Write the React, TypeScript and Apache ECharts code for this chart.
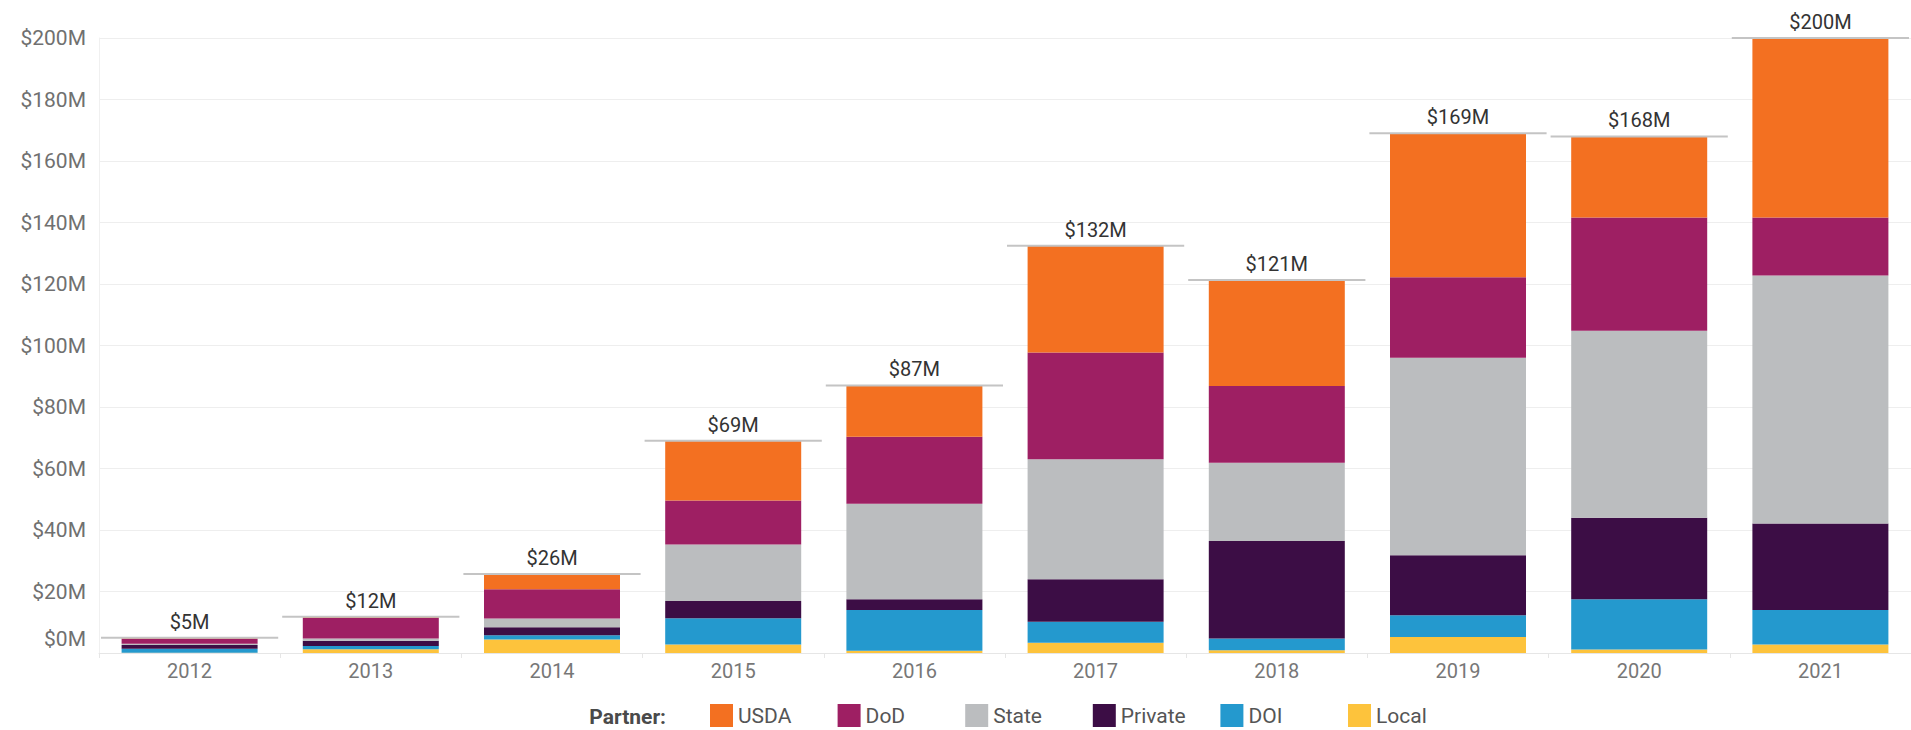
import React, { useEffect, useRef } from "react";
import * as echarts from "echarts";

const categories = ["2012", "2013", "2014", "2015", "2016", "2017", "2018", "2019", "2020", "2021"];
const usda = [0.3, 0.3, 5.0, 19.4, 16.7, 34.7, 34.5, 46.8, 26.4, 58.4];
const dod = [1.7, 6.8, 9.5, 14.3, 21.8, 34.7, 24.9, 26.2, 36.8, 18.8];
const state = [0.4, 0.7, 2.8, 18.4, 31.0, 39.0, 25.5, 64.2, 60.8, 80.7];
const privateP = [1.2, 1.7, 2.6, 5.6, 3.5, 13.8, 31.7, 19.5, 26.5, 28.1];
const doi = [1.3, 1.1, 1.4, 8.5, 13.3, 6.9, 3.8, 7.1, 16.4, 11.2];
const local = [0.1, 1.2, 4.4, 2.8, 0.7, 3.3, 0.9, 5.2, 1.1, 2.8];

const seriesDefs = [
  { name: "Local", data: local, color: "#FDC33C" },
  { name: "DOI", data: doi, color: "#2499CE" },
  { name: "Private", data: privateP, color: "#3C0D45" },
  { name: "State", data: state, color: "#BBBDBF" },
  { name: "DoD", data: dod, color: "#9E1F63" },
  { name: "USDA", data: usda, color: "#F37021" },
];
const legendOrder = ["USDA", "DoD", "State", "Private", "DOI", "Local"];

const FONT = "Roboto, 'Noto Sans', sans-serif";

export default function App() {
  const ref = useRef<HTMLDivElement>(null);
  useEffect(() => {
    if (!ref.current) return;
    const chart = echarts.init(ref.current, null, { renderer: "svg" });
    const totals = categories.map((_, i) =>
      seriesDefs.reduce((s, d) => s + d.data[i], 0)
    );
    const option: any = {
      animation: false,
      textStyle: { fontFamily: FONT },
      grid: { left: 99, width: 1812, top: 38, height: 615 },
      legend: {
        data: legendOrder,
        left: 710,
        top: 704,
        padding: 0,
        itemWidth: 23,
        itemHeight: 23,
        itemGap: 15.6,
        itemTextGap: 10,
        icon: "rect",
        selectedMode: false,
        textStyle: { fontSize: 21, color: "#555", width: 84, lineHeight: 23, fontFamily: FONT },
      },
      graphic: [
        {
          type: "text",
          x: 666,
          y: 717,
          style: {
            text: "Partner:",
            align: "right",
            verticalAlign: "middle",
            fontSize: 21,
            fontWeight: "bold",
            fill: "#4a4a4a",
            fontFamily: FONT,
          },
        },
      ],
      xAxis: {
        type: "category",
        data: categories,
        axisLine: { show: true, lineStyle: { color: "#e6e6e6", width: 1 } },
        axisTick: { show: true, length: 5, lineStyle: { color: "#e6e6e6" } },
        axisLabel: { fontSize: 20, color: "#777", margin: 8, fontFamily: FONT },
      },
      yAxis: {
        type: "value",
        min: 0,
        max: 200,
        interval: 20,
        axisLine: { show: true, lineStyle: { color: "#f0f0f0" } },
        axisTick: { show: false },
        splitLine: { lineStyle: { color: "#eeeeee", width: 1 } },
        axisLabel: {
          fontSize: 21,
          color: "#707070",
          margin: 13,
          fontFamily: FONT,
          formatter: (v: number) => (v === 0 ? "{z|$0M}" : "$" + v + "M"),
          rich: {
            z: { fontSize: 21, color: "#707070", fontFamily: FONT, padding: [0, 0, 28, 0] },
          },
        },
      },
      series: [
        ...seriesDefs.map((d) => ({
          name: d.name,
          type: "bar",
          stack: "total",
          barWidth: 136,
          data: d.data,
          itemStyle: { color: d.color },
        })),
        {
          name: "Total",
          type: "custom",
          clip: false,
          z: 10,
          data: totals.map((t, i) => [i, t]),
          encode: { x: 0, y: 1 },
          renderItem: (params: any, api: any) => {
            const idx = api.value(0);
            const total = api.value(1);
            const p = api.coord([idx, total]);
            const bw = api.size([1, 0])[0];
            return {
              type: "group",
              children: [
                {
                  type: "line",
                  shape: { x1: p[0] - bw / 2 + 2, y1: p[1], x2: p[0] + bw / 2 - 2, y2: p[1] },
                  style: { stroke: "#c4c4c4", lineWidth: 2 },
                },
                {
                  type: "text",
                  x: p[0],
                  y: p[1] - 16,
                  style: {
                    text: "$" + Math.round(total) + "M",
                    align: "center",
                    verticalAlign: "middle",
                    fontSize: 20,
                    fill: "#333",
                    fontFamily: FONT,
                  },
                },
              ],
            };
          },
        },
      ],
    };
    chart.setOption(option);
    return () => chart.dispose();
  }, []);
  return (
    <div
      ref={ref}
      style={{ position: "fixed", left: 0, top: 0, width: 1911, height: 730, background: "#fff" }}
    />
  );
}
